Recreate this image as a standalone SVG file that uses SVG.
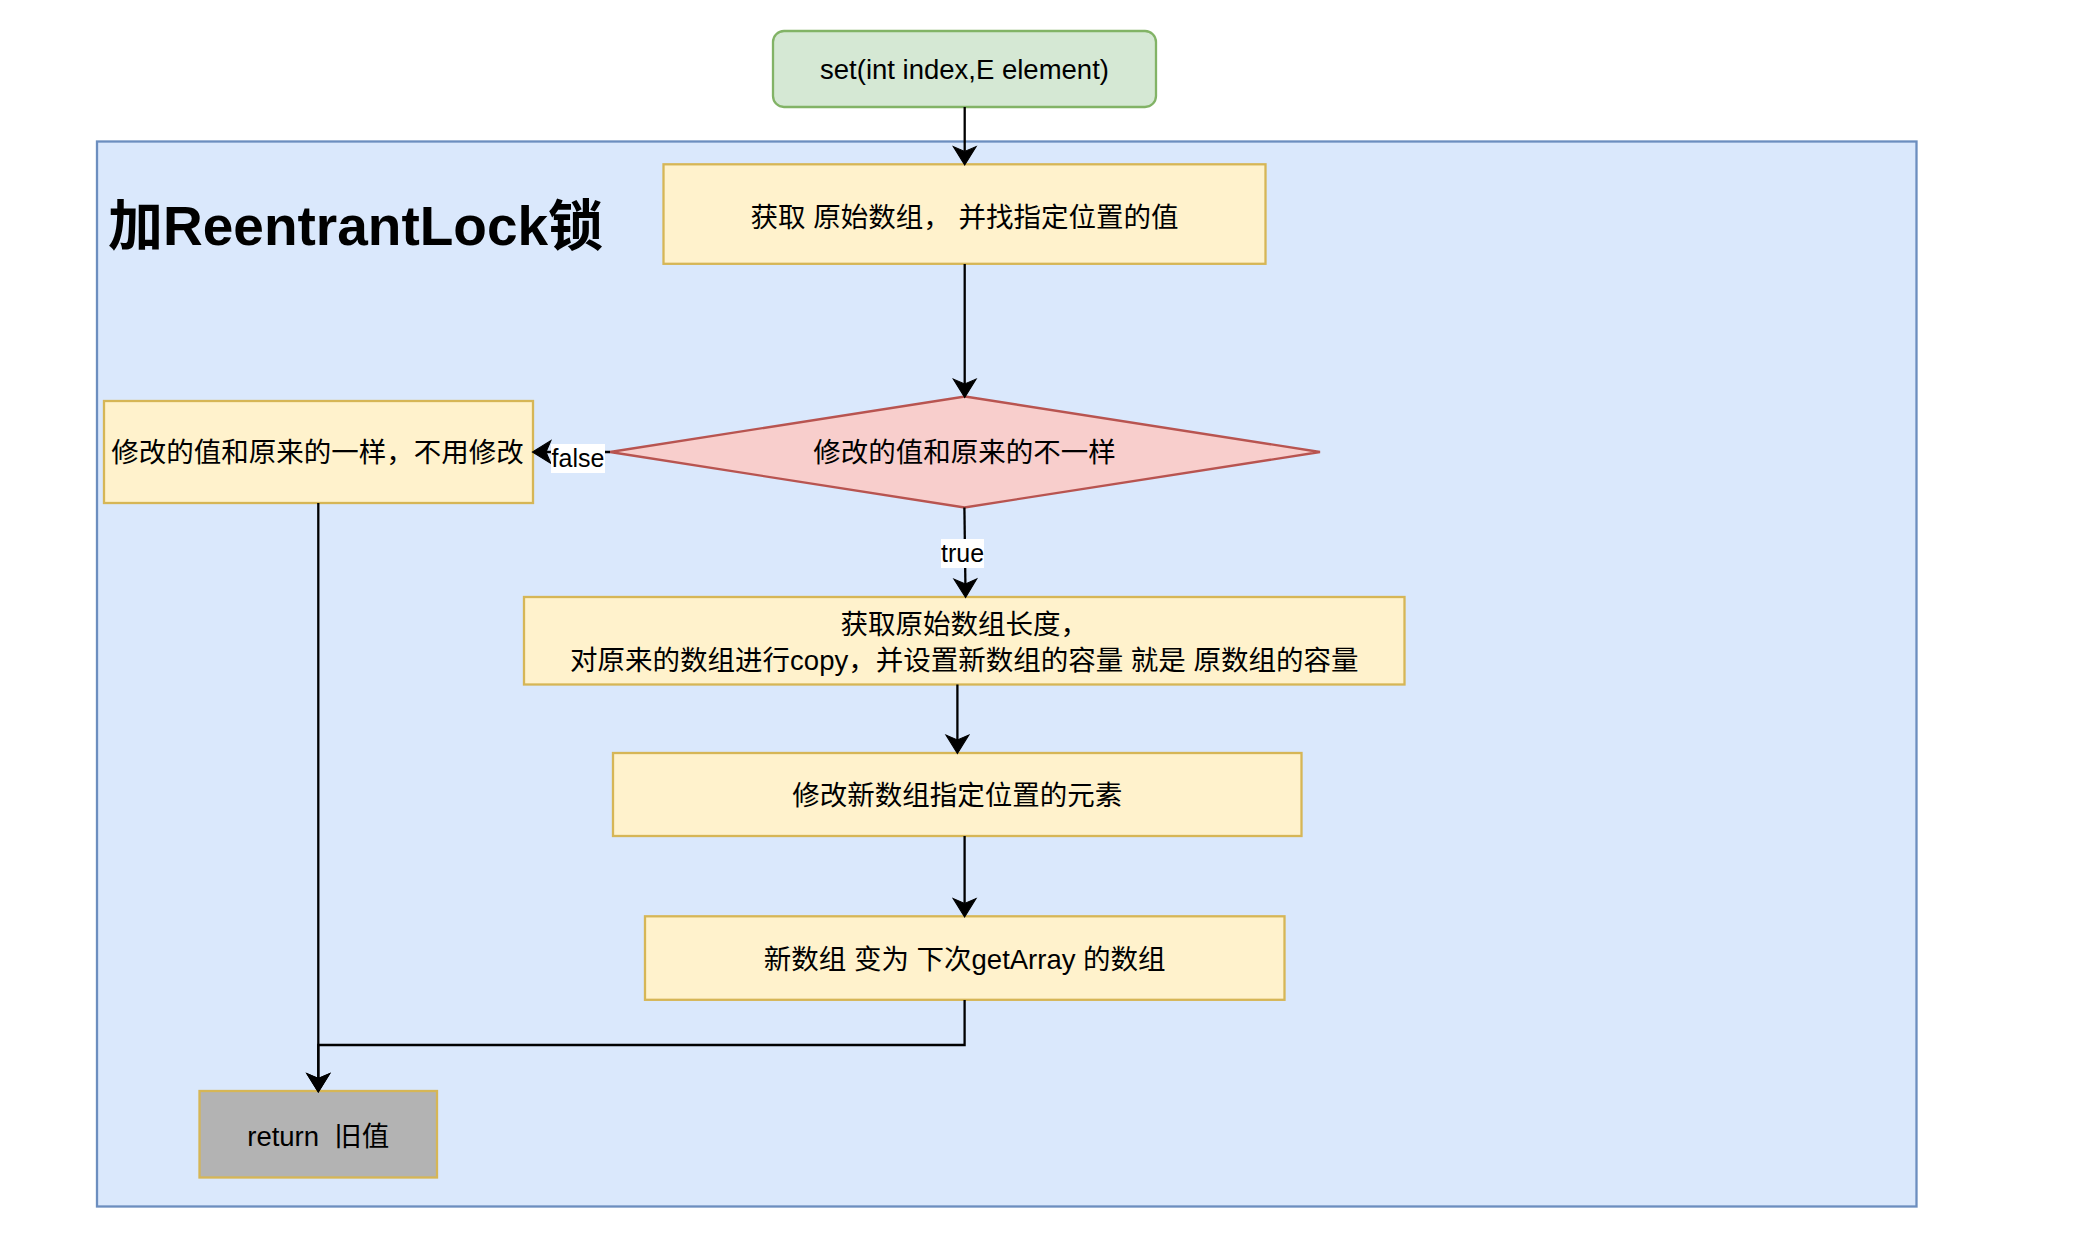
<svg xmlns="http://www.w3.org/2000/svg" width="2086" height="1248" viewBox="0 0 2086 1248">
<defs>
<style>
text{font-family:"Liberation Sans","Noto Sans CJK SC",sans-serif;fill:#000;white-space:pre;}
.t{font-size:27.5px;text-anchor:middle;}
.lbl{font-size:25px;text-anchor:middle;}
.title{font-size:55px;font-weight:bold;}
.y{fill:#fff2cc;stroke:#d6b656;stroke-width:2.3;}
.e{fill:none;stroke:#000;stroke-width:2.3;}
.lb{fill:#fff;}
</style>
<marker id="arr" markerUnits="userSpaceOnUse" markerWidth="24" markerHeight="26" viewBox="-6 -12 20 24" refX="0" refY="0" orient="auto">
<path d="M12.5,0 L-4.5,-10.5 L0,0 L-4.5,10.5 Z" fill="#000" stroke="#000" stroke-width="1"/>
</marker>
</defs>
<rect width="2086" height="1248" fill="#fff"/>
<g id="container">
<rect x="97" y="141.5" width="1819.5" height="1065" fill="#dae8fc" stroke="#6c8ebf" stroke-width="2.3"/>
<text class="title" x="108" y="245">加ReentrantLock锁</text>
</g>
<g id="start">
<rect x="773" y="31" width="383" height="76" rx="11" ry="11" fill="#d5e8d4" stroke="#82b366" stroke-width="2.3"/>
<text class="t" x="964.5" y="79">set(int index,E element)</text>
</g>
<g id="step1">
<rect class="y" x="663.5" y="164.3" width="602" height="99.5"/>
<text class="t" x="964.5" y="227">获取 原始数组， 并找指定位置的值</text>
</g>
<g id="decision">
<polygon points="965,396.5 1320,452 964.5,507.5 610,452" fill="#f8cecc" stroke="#b85450" stroke-width="2.3"/>
<text class="t" x="964.5" y="462">修改的值和原来的不一样</text>
</g>
<g id="same">
<rect class="y" x="104" y="401" width="429" height="102"/>
<text class="t" x="317.5" y="462">修改的值和原来的一样，不用修改</text>
</g>
<g id="copy">
<rect class="y" x="524" y="597" width="880.5" height="87.5"/>
<text class="t" x="964.3" y="634">获取原始数组长度，</text>
<text class="t" x="964.3" y="670">对原来的数组进行copy，并设置新数组的容量 就是 原数组的容量</text>
</g>
<g id="modify">
<rect class="y" x="613" y="753" width="688.5" height="83"/>
<text class="t" x="957.2" y="805">修改新数组指定位置的元素</text>
</g>
<g id="swap">
<rect class="y" x="645" y="916.3" width="639.5" height="83.5"/>
<text class="t" x="964.7" y="969">新数组 变为 下次getArray 的数组</text>
</g>
<g id="return">
<rect x="199.5" y="1091" width="237.5" height="86.5" fill="#b3b3b3" stroke="#d6b656" stroke-width="2.3"/>
<text class="t" x="318.3" y="1146">return  旧值</text>
</g>
<g id="connectors">
<path class="e" d="M964.7,107 L964.7,151.5" marker-end="url(#arr)"/>
<path class="e" d="M964.7,264 L964.7,384" marker-end="url(#arr)"/>
<path class="e" d="M610,452 L546,452" marker-end="url(#arr)"/>
<path class="e" d="M964.4,507.5 L965.4,584" marker-end="url(#arr)"/>
<path class="e" d="M957.4,684.5 L957.4,740" marker-end="url(#arr)"/>
<path class="e" d="M964.6,836 L964.6,903.5" marker-end="url(#arr)"/>
<path class="e" d="M964.6,1000 L964.6,1045 L318.3,1045 L318.3,1078.5" marker-end="url(#arr)"/>
<path class="e" d="M318.3,503 L318.3,1078.5" marker-end="url(#arr)"/>
<rect class="lb" x="551" y="444" width="54" height="29"/>
<text class="lbl" x="578" y="467">false</text>
<rect class="lb" x="941" y="539" width="43" height="29"/>
<text class="lbl" x="962.5" y="562">true</text>
</g>
</svg>
